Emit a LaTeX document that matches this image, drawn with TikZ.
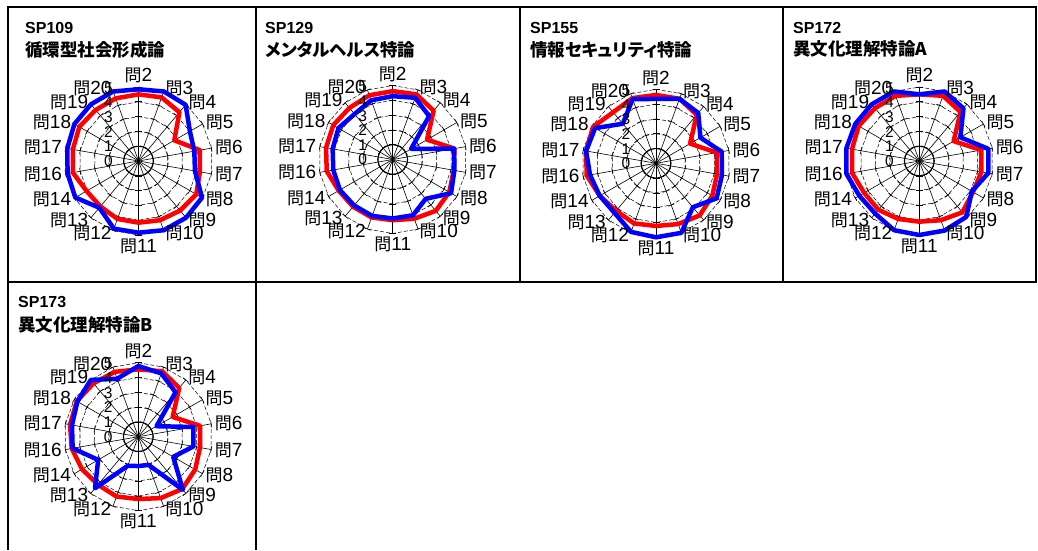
\documentclass[tikz,border=0pt]{standalone}
\usepackage{fontspec}
\setmainfont{Liberation Sans}
\newfontfamily\jp[RawFeature=+palt]{Noto Sans CJK JP}
\usetikzlibrary{calc}
\newcommand{\q}[1]{{\jp\fontsize{17}{17}\selectfont 問}#1}
\tikzset{
  frame/.style={line width=2pt},
  spoke/.style={line width=0.6pt},
  tickmark/.style={line width=0.6pt},
  gridpoly/.style={line width=0.5pt, dash pattern=on 4pt off 2pt},
  gridone/.style={line width=1pt},
  redline/.style={draw=red, line width=4.5pt, line join=round},
  blueline/.style={draw=blue, line width=4.5pt, line join=round},
  axlabel/.style={inner sep=0.5pt, font=\fontsize{19}{19}\selectfont},
  scalelabel/.style={inner sep=0pt, font=\fontsize{15.5}{15.5}\selectfont},
  titlecode/.style={anchor=west, inner sep=0pt, font=\fontsize{16}{16}\selectfont\bfseries},
  titlename/.style={anchor=west, inner sep=0pt, font=\fontsize{17.5}{17.5}\selectfont\jp\bfseries},
}
\newcommand{\radarchart}[4]{% #1 center, #2 id, #3 red list, #4 blue list
  \begin{scope}[shift={(#1)}]
    \draw[gridone] plot[samples at={0,...,17}] ({90-20*\x}:14.8) -- cycle;
    \foreach \k in {2,...,5}{
      \draw[gridpoly] plot[samples at={0,...,17}] ({90-20*\x}:{14.8*\k}) -- cycle;
    }
    \foreach \i in {0,...,17}{
      \draw[spoke] (0,0) -- ({90-20*\i}:74);
      \foreach \k in {1,...,5}{
        \draw[tickmark] ($({90-20*\i}:{14.8*\k})+({-20*\i}:3.5)$) -- ($({90-20*\i}:{14.8*\k})+({180-20*\i}:3.5)$);
      }
    }
    \foreach \z [count=\i from 0] in {#3}{ \coordinate (#2r\i) at ({90-20*\i}:{\z/3}); }
    \foreach \z [count=\i from 0] in {#4}{ \coordinate (#2b\i) at ({90-20*\i}:{\z/3}); }
    \draw[redline] (#2r0) \foreach \i in {1,...,17}{ -- (#2r\i) } -- cycle;
    \draw[blueline] (#2b0) \foreach \i in {1,...,17}{ -- (#2b\i) } -- cycle;
    \foreach \k in {0,...,5}{ \node[scalelabel] (#2s\k) at (-30,{14.6*\k}) {\k}; }
    \foreach \n/\a [count=\i from 0] in {2/south,3/west,4/west,5/west,6/west,7/west,8/west,9/west,10/west,11/north,12/east,13/east,14/east,16/east,17/east,18/east,19/east,20/east}{
      \node[axlabel, anchor=\a] (#2l\i) at ({90-20*\i}:77) {\q{\n}};
    }
  \end{scope}}
\begin{document}
\begin{tikzpicture}[x=1pt,y=1pt]
  \useasboundingbox (0,0) rectangle (1038,550);
  % frame
  \draw[frame] (7.5,268) rectangle (1035.5,542.5);
  \draw[frame] (255.5,542.5) -- (255.5,0);
  \draw[frame] (519.5,542.5) -- (519.5,268);
  \draw[frame] (783,542.5) -- (783,268);
  \draw[frame] (7.5,268) -- (7.5,0);
  % centers
  \coordinate (c1) at (138.5,389);
  \coordinate (c2) at (392.7,390.5);
  \coordinate (c3) at (656,386.7);
  \coordinate (c4) at (919.3,389);
  \coordinate (c5) at (138.3,113.3);
  % titles
  \node[titlecode] (t1a) at (25,522) {SP109};
  \node[titlename] (t1b) at (25,500) {循環型社会形成論};
  \node[titlecode] (t2a) at (265,522) {SP129};
  \node[titlename] (t2b) at (265,500) {メンタルヘルス特論};
  \node[titlecode] (t3a) at (530,522) {SP155};
  \node[titlename] (t3b) at (530,500) {情報セキュリティ特論};
  \node[titlecode] (t4a) at (793,522) {SP172};
  \node[titlename] (t4b) at (793,501) {異文化理解特論A};
  \node[titlecode] (t5a) at (18,248) {SP173};
  \node[titlename] (t5b) at (18,225) {異文化理解特論B};
  % charts
  \radarchart{c1}{A}{200,203,191,124,187,187,200,194,189,185,185,178,180,200,200,205,200,200}{215,222,220,178,170,172,220,222,221,215,216,183,219,216,217,222,222,222}
  \radarchart{c2}{B}{205,208,191,119,188,186,196,201,189,182,185,185,187,201,203,206,202,205}{190,197,170,64,187,188,202,154,178,177,180,180,183,181,183,188,178,189}
  \radarchart{c3}{C}{205,206,190,118,185,186,195,204,194,188,192,186,195,211,213,218,200,208}{193,206,197,154,200,201,210,172,222,222,219,194,195,201,213,211,155,205}
  \radarchart{c4}{D}{200,208,192,119,189,189,186,201,189,182,185,191,191,205,205,210,207,208}{200,222,206,142,210,210,182,219,222,222,221,206,208,222,222,222,222,222}
  \radarchart{c5}{E}{202,209,191,119,188,188,197,205,196,187,191,188,195,203,208,213,209,207}{212,202,174,63,168,168,121,208,90,88,93,202,139,200,202,211,222,185}
\end{tikzpicture}
\end{document}
